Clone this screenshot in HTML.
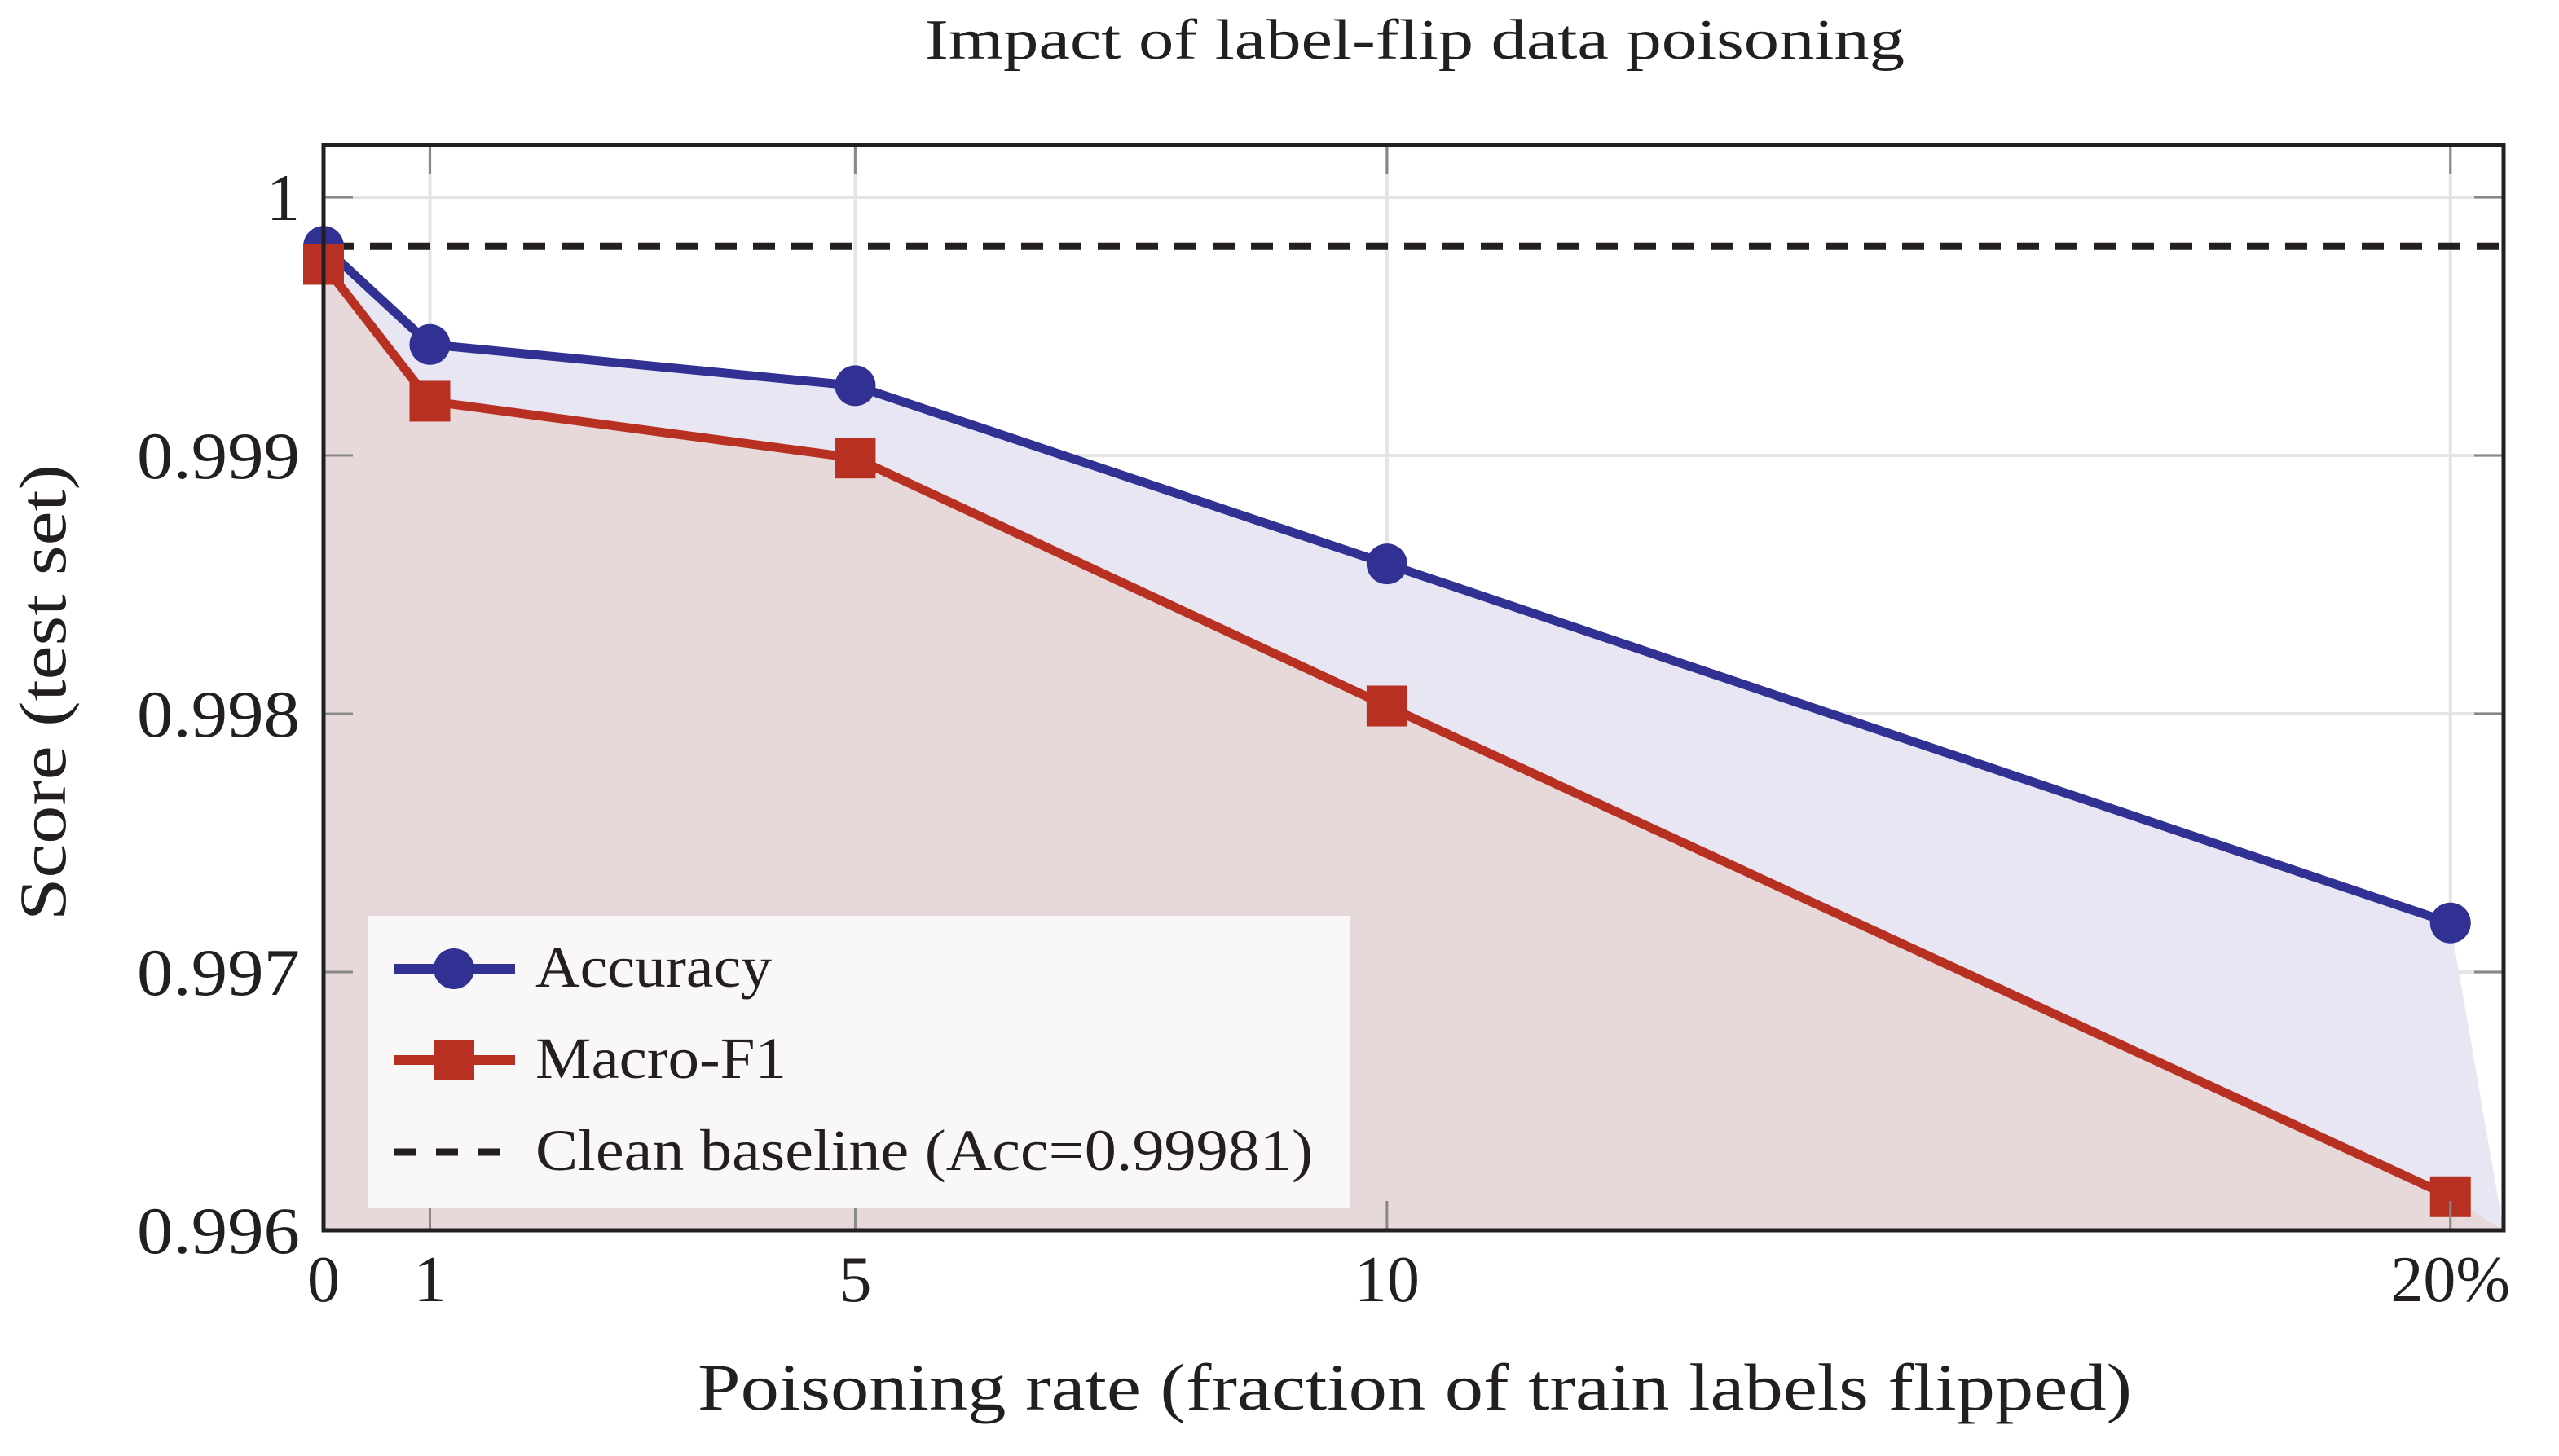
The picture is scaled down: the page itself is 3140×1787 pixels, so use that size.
<!DOCTYPE html>
<html><head><meta charset="utf-8"><style>
html,body{margin:0;padding:0;background:#fff}
svg{display:block}
text{font-family:"Liberation Serif","DejaVu Serif",serif;fill:#231f20}
</style></head><body>
<svg id="chart" width="3140" height="1787" viewBox="0 0 3140 1787">
<g id="gridG"></g>
<g id="fillG"></g>
<g id="lineG"></g>
<g id="axisG"></g>
<text x="1736" y="72" font-size="70" text-anchor="middle" textLength="1202" lengthAdjust="spacingAndGlyphs">Impact of label-flip data poisoning</text>
<text x="1736" y="1730" font-size="82" text-anchor="middle" textLength="1760" lengthAdjust="spacingAndGlyphs">Poisoning rate (fraction of train labels flipped)</text>
<text transform="translate(80,850) rotate(-90)" font-size="82" text-anchor="middle" textLength="560" lengthAdjust="spacingAndGlyphs">Score (test set)</text>
<g id="legendG"></g>
</svg>
<script>
const xCats = [0, 1, 5, 10, 20];
const xTickLabels = ["0", "1", "5", "10", "20%"];
const accValues = [0.99981, 0.99943, 0.99927, 0.99858, 0.99719];
const f1Values = [0.99974, 0.99921, 0.99899, 0.99803, 0.99613];
const baselineValue = 0.99981;
const yTicks = [0.996, 0.997, 0.998, 0.999, 1.0];
const yTickLabels = ["0.996", "0.997", "0.998", "0.999", "1"];

const L=397, R=3072, T=178, B=1510;
const xMin=0, xMax=20.5, yMin=0.996, yMax=1.000202;
const sx = v => L + (v - xMin) / (xMax - xMin) * (R - L);
const sy = v => B - (v - yMin) / (yMax - yMin) * (B - T);
const NS="http://www.w3.org/2000/svg";
function mk(tag, attrs, parent){const e=document.createElementNS(NS,tag);for(const k in attrs)e.setAttribute(k,attrs[k]);parent.appendChild(e);return e;}

const grid=document.getElementById('gridG');
const fills=document.getElementById('fillG');
const lines=document.getElementById('lineG');
const axis=document.getElementById('axisG');
const legend=document.getElementById('legendG');

xCats.forEach((c,i)=>{
  const g=mk('line',{x1:sx(c),x2:sx(c),y1:T,y2:B,stroke:'#e4e4e4','stroke-width':4},grid);
  
  
});
yTicks.forEach((t,i)=>{
  const g=mk('line',{x1:L,x2:R,y1:sy(t),y2:sy(t),stroke:'#e4e4e4','stroke-width':4},grid);
  
  
});

function areaPts(vals){
  let p=vals.map((v,i)=>sx(xCats[i])+','+sy(v));
  p.push(R+','+B); p.push(sx(xCats[0])+','+B);
  return p.join(' ');
}
const fa=mk('polygon',{points:areaPts(accValues),fill:'#e8e6f3'},fills);


const ff=mk('polygon',{points:areaPts(f1Values),fill:'#e7d8da'},fills);



xCats.forEach((c,i)=>{
  const t1=mk('line',{x1:sx(c),x2:sx(c),y1:B,y2:B-36,stroke:'#888','stroke-width':3},axis);
  
  
  const t2=mk('line',{x1:sx(c),x2:sx(c),y1:T,y2:T+36,stroke:'#888','stroke-width':3},axis);
  
  
  const lb=mk('text',{x:sx(c),y:1597,'font-size':80,'text-anchor':'middle'},axis);
  lb.textContent=xTickLabels[i];
  
  
});
yTicks.forEach((t,i)=>{
  const t1=mk('line',{x1:L,x2:L+36,y1:sy(t),y2:sy(t),stroke:'#888','stroke-width':3},axis);
  
  
  const t2=mk('line',{x1:R-36,x2:R,y1:sy(t),y2:sy(t),stroke:'#888','stroke-width':3},axis);
  
  
  const a={x:368,y:sy(t)+28,'font-size':82,'text-anchor':'end'};
  if(yTickLabels[i].length>3){a.textLength=yTickLabels[i].length*40;a.lengthAdjust='spacingAndGlyphs';}
  const lb=mk('text',a,axis);
  lb.textContent=yTickLabels[i];
  
  
});

const bl=mk('line',{x1:sx(0)+10,x2:R,y1:sy(baselineValue),y2:sy(baselineValue),stroke:'#231f20','stroke-width':9,'stroke-dasharray':'27 20'},lines);



function series(vals,color,name,marker){
  const pl=mk('polyline',{points:vals.map((v,i)=>sx(xCats[i])+','+sy(v)).join(' '),fill:'none',stroke:color,'stroke-width':11,'stroke-linejoin':'round'},lines);
  
  
  vals.forEach((v,i)=>{
    let m;
    if(marker==='circle') m=mk('ellipse',{cx:sx(xCats[i]),cy:sy(v),rx:25,ry:25,fill:color},lines);
    else m=mk('rect',{x:sx(xCats[i])-25,y:sy(v)-25,width:50,height:50,fill:color},lines);
    
    
  });
}
series(accValues,'#303193','accuracy','circle');
series(f1Values,'#b83022','macro-f1','square');

const fr=mk('rect',{x:L,y:T,width:R-L,height:B-T,fill:'none',stroke:'#231f20','stroke-width':5},axis);



const lbx=mk('rect',{x:451,y:1124,width:1205,height:359,fill:'#f9f7f8'},legend);


const entries=[['Accuracy','#303193','circle',1189,290],['Macro-F1','#b83022','square',1301,308],['Clean baseline (Acc=0.99981)','#231f20','dash',1414,954]];
entries.forEach(e=>{
  const g=mk('g',{},legend);
  
  
  if(e[2]==='dash'){
    mk('line',{x1:483,x2:632,y1:e[3],y2:e[3],stroke:e[1],'stroke-width':9,'stroke-dasharray':'27 25'},g);
  } else {
    mk('line',{x1:483,x2:632,y1:e[3],y2:e[3],stroke:e[1],'stroke-width':12},g);
    if(e[2]==='circle') mk('circle',{cx:557,cy:e[3],r:25,fill:e[1]},g);
    else mk('rect',{x:532,y:e[3]-25,width:50,height:50,fill:e[1]},g);
  }
  const t=mk('text',{x:657,y:e[3]+22,'font-size':72,textLength:e[4],lengthAdjust:'spacingAndGlyphs'},g);
  t.textContent=e[0];
});
</script>
</body></html>
